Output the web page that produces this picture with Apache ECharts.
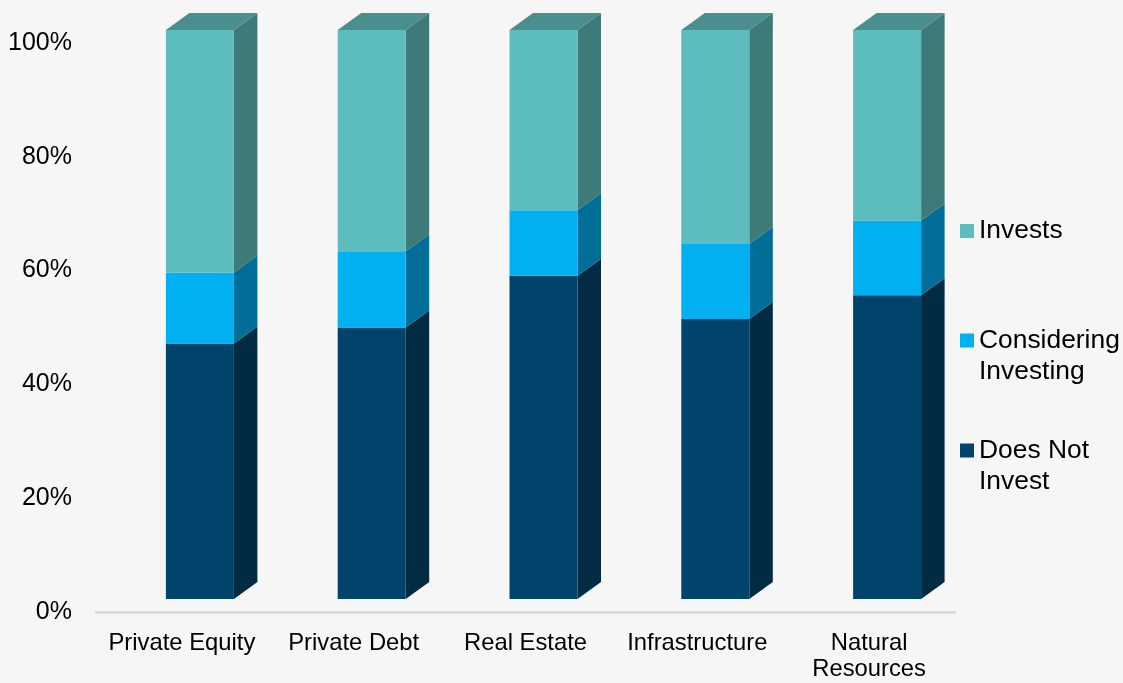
<!DOCTYPE html>
<html>
<head>
<meta charset="utf-8">
<script src="https://cdn.jsdelivr.net/npm/echarts@6/dist/echarts.min.js"></script>
<style>
html,body{margin:0;padding:0;background:#f6f6f6;}
#chart{width:1123px;height:683px;}
</style>
</head>
<body>
<div id="chart"></div>
<script>
// ---- Data ----
var categories = ['Private Equity', 'Private Debt', 'Real Estate', 'Infrastructure', 'Natural\nResources'];
var doesNotInvest = [44.9, 47.7, 56.8, 49.2, 53.4];
var considering = [12.5, 13.4, 11.5, 13.2, 13.1];
var invests = [42.6, 38.9, 31.7, 37.6, 33.5];
var seriesNames = ['Does Not Invest', 'Considering Investing', 'Invests'];
var legendLabels = ['Does Not\nInvest', 'Considering\nInvesting', 'Invests'];
var yTicks = [0, 20, 40, 60, 80, 100];

// ---- Styles ----
var faceColors = [
  {front: '#00446b', side: '#002b42', top: '#003656'},
  {front: '#00b0f0', side: '#006e99', top: '#0090c4'},
  {front: '#5dbcbe', side: '#3e7a78', top: '#4a8f8e'}
];
var DX = 23.5, DY = 17, FRONT_OFF_X = -16, FRONT_W = 68, FRONT_OFF_Y = -13;

var valueSets = [doesNotInvest, considering, invests];
var cumulative = categories.map(function(){ return 0; });
var series = valueSets.map(function(vals, si){
  var data = vals.map(function(v, ci){
    var base = cumulative[ci];
    cumulative[ci] = base + v;
    return [ci, base, base + v];
  });
  var isTop = si === valueSets.length - 1;
  var col = faceColors[si];
  return {
    type: 'custom',
    name: seriesNames[si],
    itemStyle: {color: col.front},
    data: data,
    z: 2 + si,
    renderItem: function(params, api){
      var pB = api.coord([api.value(0), api.value(1)]);
      var pT = api.coord([api.value(0), api.value(2)]);
      var xL = pB[0] + FRONT_OFF_X;
      var xR = xL + FRONT_W;
      var yB = pB[1] + FRONT_OFF_Y;
      var yT = pT[1] + FRONT_OFF_Y;
      var children = [
        {type: 'polygon', shape: {points: [[xR, yT], [xR + DX, yT - DY], [xR + DX, yB - DY], [xR, yB]]},
          style: {fill: col.side}},
        {type: 'rect', shape: {x: xL, y: yT, width: FRONT_W, height: yB - yT},
          style: {fill: col.front}}
      ];
      if (isTop) {
        children.push({type: 'polygon', shape: {points: [[xL, yT], [xL + DX, yT - DY], [xR + DX, yT - DY], [xR, yT]]},
          style: {fill: col.top}});
      }
      return {type: 'group', children: children};
    }
  };
});

var FONT = "'Liberation Sans', Arial, sans-serif";
function makeLegend(idx, top, blankLead) {
  return {
    data: [seriesNames[idx]],
    orient: 'vertical',
    left: 960,
    top: top,
    padding: 0,
    icon: 'rect',
    itemWidth: 14,
    itemHeight: 14,
    selectedMode: false,
    formatter: function(){ return (blankLead ? '\n' : '') + legendLabels[idx]; },
    textStyle: {fontSize: 26.4, color: '#000', fontFamily: FONT, lineHeight: 31}
  };
}

var option = {
  backgroundColor: '#f6f6f6',
  animation: false,
  grid: {left: 96, right: 168, top: 43, bottom: 71, containLabel: false},
  legend: [
    makeLegend(2, 215.5, false),
    makeLegend(1, 294, true),
    makeLegend(0, 404, true)
  ],
  xAxis: {
    type: 'category',
    data: categories,
    axisLine: {show: true, lineStyle: {color: '#d9d9d9', width: 2.5}},
    axisTick: {show: false},
    axisLabel: {fontSize: 23.8, color: '#000', fontFamily: FONT, margin: 18, lineHeight: 26, interval: 0}
  },
  yAxis: {
    type: 'value',
    min: yTicks[0],
    max: yTicks[yTicks.length - 1],
    interval: yTicks[1] - yTicks[0],
    axisLine: {show: false},
    axisTick: {show: false},
    splitLine: {show: false},
    axisLabel: {fontSize: 25, color: '#000', fontFamily: FONT, margin: 24, padding: [4, 0, 0, 0], formatter: '{value}%'}
  },
  series: series
};

var chart = echarts.init(document.getElementById('chart'));
chart.setOption(option);
</script>
</body>
</html>
